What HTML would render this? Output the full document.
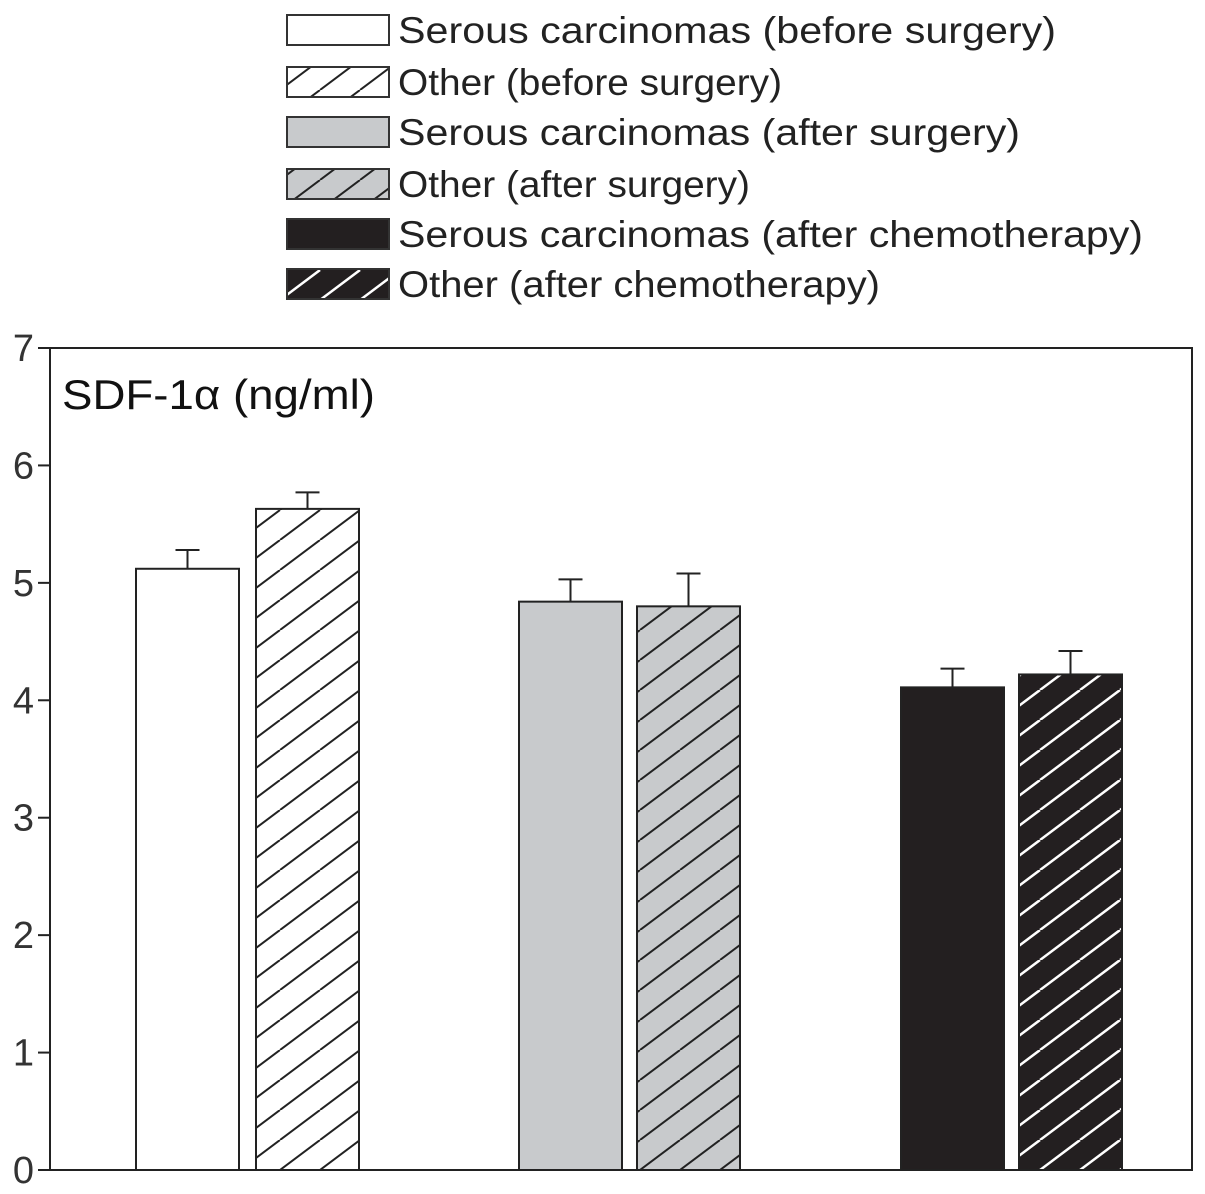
<!DOCTYPE html>
<html><head><meta charset="utf-8"><style>
html,body{margin:0;padding:0;background:#fff;}
svg{display:block;font-family:"Liberation Sans",sans-serif;}
</style></head><body>
<svg id="chart" width="1205" height="1194" viewBox="0 0 1205 1194" xmlns="http://www.w3.org/2000/svg">
<defs>
<pattern id="hw" width="40" height="30" patternUnits="userSpaceOnUse"><rect width="40" height="30" fill="#fff"/><path d="M-40,30 L0,0 M0,30 L40,0 M40,30 L80,0" stroke="#222" stroke-width="2"/></pattern>
<pattern id="hg" width="40" height="30" patternUnits="userSpaceOnUse"><rect width="40" height="30" fill="#c8cacc"/><path d="M-40,30 L0,0 M0,30 L40,0 M40,30 L80,0" stroke="#222" stroke-width="2"/></pattern>
<pattern id="hb" width="40" height="30" patternUnits="userSpaceOnUse"><rect width="40" height="30" fill="#231f20"/><path d="M-40,30 L0,0 M0,30 L40,0 M40,30 L80,0" stroke="#fff" stroke-width="2.5"/></pattern>
</defs>
<g id="legend"></g>
<g id="axes"></g>
<g id="bars"></g>
<text x="62" y="409" font-size="42" textLength="313" lengthAdjust="spacingAndGlyphs" fill="#111">SDF-1α (ng/ml)</text>
</svg>
<script>
const categories = ["Serous carcinomas (before surgery)","Other (before surgery)","Serous carcinomas (after surgery)","Other (after surgery)","Serous carcinomas (after chemotherapy)","Other (after chemotherapy)"];
const values = [5.12, 5.63, 4.84, 4.80, 4.11, 4.22];
const errors = [0.16, 0.14, 0.19, 0.28, 0.16, 0.20];
const yTicks = [0,1,2,3,4,5,6,7];
const fills = ["#fff","url(#hw)","#c8cacc","url(#hg)","#231f20","url(#hb)"];
const barX = [136,256,519,637,901,1019];
const legendLen = [658,384,622,352,745,482];
const NS="http://www.w3.org/2000/svg";
const y0=1170, y1=348, yMax=7;
const y = v => y0 - (v/yMax)*(y0-y1);
function mk(tag, attrs, parent){const e=document.createElementNS(NS,tag);for(const k in attrs)e.setAttribute(k,attrs[k]);parent.appendChild(e);return e;}
const axes=document.getElementById('axes');
const frame=mk('path',{d:`M50,${y1} L1192,${y1} L1192,${y0} L50,${y0} Z`,fill:'none',stroke:'#222','stroke-width':2},axes);


yTicks.forEach(t=>{
  const tk=mk('line',{x1:38,x2:50,y1:y(t),y2:y(t),stroke:'#222','stroke-width':2},axes);
  
  
  const tl=mk('text',{x:34,y:y(t)+13,'font-size':38,'text-anchor':'end',fill:'#333'},axes);
  tl.textContent=t;
  
  
});
const bars=document.getElementById('bars');
values.forEach((v,i)=>{
  const x=barX[i], w=103, cx=x+w/2;
  const el=mk('line',{x1:cx,x2:cx,y1:y(v),y2:y(v+errors[i]),stroke:'#222','stroke-width':2},bars);
  
  
  const cap=mk('line',{x1:cx-12,x2:cx+12,y1:y(v+errors[i]),y2:y(v+errors[i]),stroke:'#222','stroke-width':2},bars);
  
  
  const r=mk('rect',{x:x,y:y(v),width:w,height:y0-y(v),fill:fills[i],stroke:'#222','stroke-width':2},bars);
  
  
});
const lg=document.getElementById('legend');
const rowY=[15,67,117,169,219,269];
categories.forEach((c,i)=>{
  const r=mk('rect',{x:287,y:rowY[i],width:102,height:30,fill:fills[i],stroke:'#333','stroke-width':2},lg);
  
  
  const t=mk('text',{x:398,y:rowY[i]+28,'font-size':37,fill:'#222',textLength:legendLen[i],lengthAdjust:'spacingAndGlyphs'},lg);
  t.textContent=c;
  
  
});
</script>
</body></html>
